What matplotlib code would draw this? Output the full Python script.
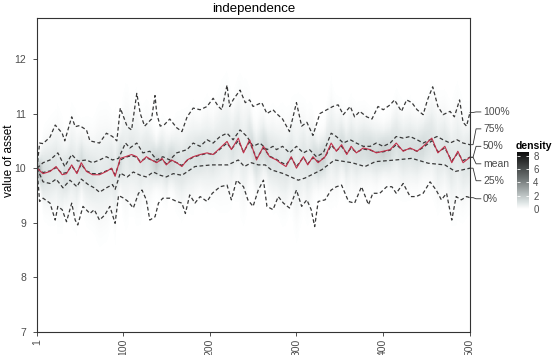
import numpy as np
import matplotlib
matplotlib.use("Agg")
import matplotlib.pyplot as plt
from matplotlib.colors import LinearSegmentedColormap

plt.rcParams['font.family'] = ['Liberation Sans', 'DejaVu Sans']

# quantile / mean paths (time step, value)
q100_t = [1, 4, 8, 16, 22, 30, 33, 41, 45, 50, 58, 62, 73, 81, 88, 93, 97, 105, 110, 116,
          120, 125, 133, 137, 139, 143, 148, 154, 162, 168, 174, 181, 189, 197, 204, 210, 214, 220, 223, 227,
          235, 241, 246, 250, 260, 266, 273, 277, 284, 292, 300, 306, 312, 319, 327, 335, 342, 348, 354, 362,
          367, 373, 381, 387, 394, 400, 408, 413, 421, 427, 433, 439, 446, 451, 457, 463, 469, 477, 482, 488,
          492, 496, 500]
q100_v = [10.0, 10.46, 10.45, 10.57, 10.79, 10.64, 10.5, 10.94, 10.76, 10.78, 10.7, 10.5, 10.46, 10.64, 10.58, 10.5, 11.1, 10.76, 10.7, 11.37,
          11.0, 10.77, 10.9, 11.33, 11.0, 10.77, 10.8, 10.9, 10.74, 10.67, 10.94, 11.1, 11.07, 11.13, 11.28, 11.13, 11.07, 11.52, 11.13, 11.25,
          11.43, 11.2, 11.25, 11.13, 11.2, 11.0, 11.07, 11.0, 10.9, 10.67, 11.2, 10.77, 10.84, 10.6, 11.0, 11.07, 11.13, 11.16, 10.98, 11.13,
          10.94, 11.04, 10.94, 10.9, 11.13, 11.07, 11.16, 11.25, 11.04, 11.25, 11.2, 11.07, 10.98, 11.25, 11.49, 11.13, 10.98, 11.04, 10.94, 11.25,
          10.84, 10.77, 11.02]

q75_t = [1, 8, 16, 25, 33, 41, 48, 58, 65, 73, 81, 88, 95, 103, 108, 116, 123, 131, 139, 146,
         154, 162, 174, 181, 189, 197, 204, 212, 220, 227, 235, 243, 250, 258, 266, 273, 277, 284, 292, 300,
         308, 315, 323, 331, 340, 346, 354, 362, 369, 377, 385, 392, 400, 408, 415, 423, 431, 439, 446, 454,
         462, 469, 477, 485, 492, 500]
q75_v = [10.0, 10.1, 10.15, 10.28, 10.03, 10.25, 10.13, 10.15, 10.1, 10.15, 10.21, 10.15, 10.18, 10.46, 10.37, 10.46, 10.28, 10.31, 10.15, 10.21,
         10.15, 10.28, 10.34, 10.46, 10.4, 10.52, 10.46, 10.58, 10.64, 10.52, 10.7, 10.58, 10.4, 10.46, 10.34, 10.4, 10.34, 10.4, 10.28, 10.4,
         10.28, 10.34, 10.21, 10.28, 10.64, 10.58, 10.46, 10.52, 10.46, 10.4, 10.4, 10.46, 10.4, 10.46, 10.58, 10.55, 10.58, 10.52, 10.46, 10.52,
         10.58, 10.52, 10.46, 10.52, 10.46, 10.43]

mid_t = [1, 8, 16, 23, 30, 35, 41, 47, 52, 58, 65, 73, 81, 87, 91, 97, 103, 110, 116, 120,
         127, 133, 139, 145, 150, 156, 162, 168, 174, 181, 189, 197, 204, 212, 220, 225, 233, 239, 246, 254,
         262, 269, 277, 281, 288, 294, 300, 308, 313, 319, 325, 333, 340, 346, 352, 358, 363, 369, 377, 385,
         392, 400, 408, 415, 423, 431, 439, 446, 456, 463, 471, 479, 486, 492, 500]
mean_v = [10.0, 9.9, 9.94, 10.03, 9.88, 9.9, 10.06, 9.9, 10.1, 9.94, 9.88, 9.88, 9.94, 10.0, 9.85, 10.18, 10.21, 10.25, 10.21, 10.1,
          10.21, 10.15, 10.1, 10.18, 10.06, 10.15, 10.1, 10.03, 10.15, 10.21, 10.25, 10.28, 10.25, 10.37, 10.49, 10.34, 10.55, 10.28, 10.52, 10.15,
          10.4, 10.21, 10.15, 10.1, 10.03, 10.21, 10.0, 10.21, 10.06, 10.21, 10.1, 10.21, 10.46, 10.31, 10.43, 10.25, 10.4, 10.28, 10.37, 10.34,
          10.28, 10.31, 10.34, 10.46, 10.31, 10.37, 10.31, 10.4, 10.55, 10.28, 10.4, 10.1, 10.31, 10.1, 10.2]
q50_v = [10.0, 9.92, 9.95, 10.01, 9.9, 9.92, 10.04, 9.92, 10.07, 9.95, 9.9, 9.9, 9.95, 9.99, 9.88, 10.15, 10.2, 10.23, 10.2, 10.12,
         10.19, 10.15, 10.11, 10.16, 10.08, 10.14, 10.1, 10.05, 10.14, 10.2, 10.24, 10.27, 10.25, 10.35, 10.46, 10.35, 10.5, 10.3, 10.48, 10.18,
         10.37, 10.22, 10.16, 10.12, 10.06, 10.19, 10.03, 10.2, 10.08, 10.19, 10.12, 10.2, 10.42, 10.32, 10.4, 10.27, 10.37, 10.29, 10.35, 10.33,
         10.29, 10.3, 10.33, 10.43, 10.32, 10.36, 10.31, 10.38, 10.5, 10.3, 10.37, 10.13, 10.28, 10.14, 10.2]

q25_t = [1, 8, 16, 23, 31, 39, 47, 52, 60, 67, 73, 81, 88, 91, 97, 105, 112, 120, 127, 135,
         143, 150, 158, 168, 183, 202, 221, 233, 240, 248, 256, 264, 271, 285, 302, 310, 329, 344, 364, 379,
         391, 414, 433, 452, 471, 483, 500]
q25_v = [10.0, 9.75, 9.72, 9.8, 9.64, 9.78, 9.66, 9.8, 9.7, 9.64, 9.56, 9.64, 9.7, 9.61, 9.91, 9.84, 9.93, 9.87, 9.84, 9.93,
         9.87, 9.84, 9.9, 9.87, 10.03, 10.06, 10.06, 10.15, 10.03, 10.1, 10.06, 10.06, 9.97, 9.9, 9.78, 9.82, 9.97, 10.15, 10.1, 10.03,
         10.12, 10.15, 10.18, 10.09, 10.06, 9.94, 10.0]

q0_t = [1, 4, 8, 16, 22, 25, 30, 35, 41, 45, 48, 54, 62, 67, 73, 79, 85, 91, 95, 101,
        106, 112, 118, 122, 127, 131, 137, 141, 146, 154, 162, 168, 172, 177, 183, 189, 197, 203, 212, 220,
        225, 231, 239, 244, 250, 256, 262, 266, 273, 279, 285, 292, 300, 306, 312, 317, 321, 325, 333, 340,
        346, 352, 360, 367, 375, 383, 388, 396, 404, 410, 415, 423, 431, 438, 446, 454, 461, 467, 473, 479,
        484, 490, 496, 500]
q0_v = [10.0, 9.39, 9.45, 9.36, 9.05, 9.3, 9.24, 9.02, 9.36, 9.05, 8.96, 9.3, 9.17, 9.24, 9.05, 9.14, 9.3, 8.99, 9.5, 9.45,
        9.39, 9.27, 9.54, 9.6, 9.42, 9.05, 9.11, 9.36, 9.45, 9.45, 9.39, 9.36, 9.17, 9.51, 9.36, 9.48, 9.39, 9.54, 9.66, 9.69,
        9.42, 9.78, 9.66, 9.42, 9.3, 9.6, 9.78, 9.3, 9.24, 9.48, 9.36, 9.27, 9.6, 9.3, 9.42, 9.24, 8.93, 9.39, 9.42, 9.6,
        9.66, 9.69, 9.39, 9.36, 9.66, 9.33, 9.54, 9.54, 9.66, 9.66, 9.54, 9.72, 9.48, 9.48, 9.54, 9.75, 9.6, 9.42, 9.54, 9.05,
        9.48, 9.42, 9.48, 9.46]

labels = ["100%", "75%", "50%", "mean", "25%", "0%"]
label_pos = [11.03, 10.72, 10.4, 10.08, 9.77, 9.44]
x_ticks = [1, 100, 200, 300, 400, 500]

fig = plt.figure(figsize=(5.55, 3.55), dpi=100)
ax = fig.add_axes([37 / 555, 1 - 332 / 355, 433 / 555, 314 / 355])

# density shading built from mean and inter-quartile spread
cmap = LinearSegmentedColormap.from_list(
    "dens", [(0, "#ffffff"), (0.12, "#dce3e3"), (0.55, "#6a7070"), (1, "#0d0d0d")])
tt = np.arange(1, 501)
yy = np.linspace(7, 12.75, 460)
mu = np.interp(tt, mid_t, mean_v)
sd = (np.interp(tt, q75_t, q75_v) - np.interp(tt, q25_t, q25_v)) / 1.1
sd = np.maximum(sd, 0.15)
dens = np.exp(-(yy[:, None] - mu[None, :]) ** 2 / (2 * sd[None, :] ** 2)) / (sd[None, :] * np.sqrt(2 * np.pi))
ax.imshow(dens, extent=[0.5, 500.5, 7, 12.75], origin='lower', aspect='auto',
          cmap=cmap, vmin=0, vmax=8.6, interpolation='nearest')

dash = (0, (3, 2))
lc = '#383838'
for t, v in [(q100_t, q100_v), (q75_t, q75_v), (mid_t, q50_v), (q25_t, q25_v), (q0_t, q0_v)]:
    ax.plot(t, v, ls=dash, color=lc, lw=0.9)
ax.plot(mid_t, mean_v, color='#c2304a', lw=0.8)

ax.set_xlim(1, 500)
ax.set_ylim(7, 12.75)
ax.set_xticks(x_ticks)
ax.set_xticklabels([str(x) for x in x_ticks], rotation=90, fontsize=7.5, color='#4d4d4d')
ax.set_yticks([7, 8, 9, 10, 11, 12])
ax.tick_params(axis='both', length=3, width=0.6, color='#333333', labelsize=7.5,
               labelcolor='#4d4d4d', pad=2)
ax.tick_params(axis='y', pad=5)
for s in ax.spines.values():
    s.set_color('#333333')
    s.set_linewidth(0.8)
fig.text(9 / 555, 1 - 161 / 355, "value of asset", fontsize=8.5, rotation=90,
         ha='center', va='center')
ax.set_title("independence", fontsize=9.5, pad=4)

# leader lines to the right-hand labels
ends = [q100_v[-1], q75_v[-1], q50_v[-1], mean_v[-1], q25_v[-1], q0_v[-1]]
for lab, ye, yl in zip(labels, ends, label_pos):
    ax.plot([500, 503.5, 507, 512.5], [ye, ye, yl, yl], color='#333333', lw=0.6, clip_on=False)
    ax.text(515, yl, lab, fontsize=7.5, color='#4d4d4d', va='center', ha='left', clip_on=False)

# colour bar
cax = fig.add_axes([517 / 555, 1 - 211 / 355, 12 / 555, 59 / 355])
grad = np.linspace(-0.3, 8.6, 200)[:, None]
cax.imshow(grad, extent=[0, 1, -0.3, 8.6], origin='lower', aspect='auto', cmap=cmap, vmin=0, vmax=8.6)
cax.set_xlim(0, 1)
cax.set_ylim(-0.3, 8.6)
cax.set_xticks([])
cax.tick_params(axis='y', which='both', left=True, right=True, labelleft=False, labelright=True,
                direction='in', length=2.5, width=0.6, color='white', labelsize=7,
                labelcolor='#4d4d4d', pad=3)
cax.set_yticks([0, 2, 4, 6, 8])
for s in cax.spines.values():
    s.set_visible(False)
fig.text(516 / 555, 1 - 146 / 355, "density", fontsize=7.5, fontweight='bold', va='center', ha='left')

fig.savefig("out.png", dpi=100)
